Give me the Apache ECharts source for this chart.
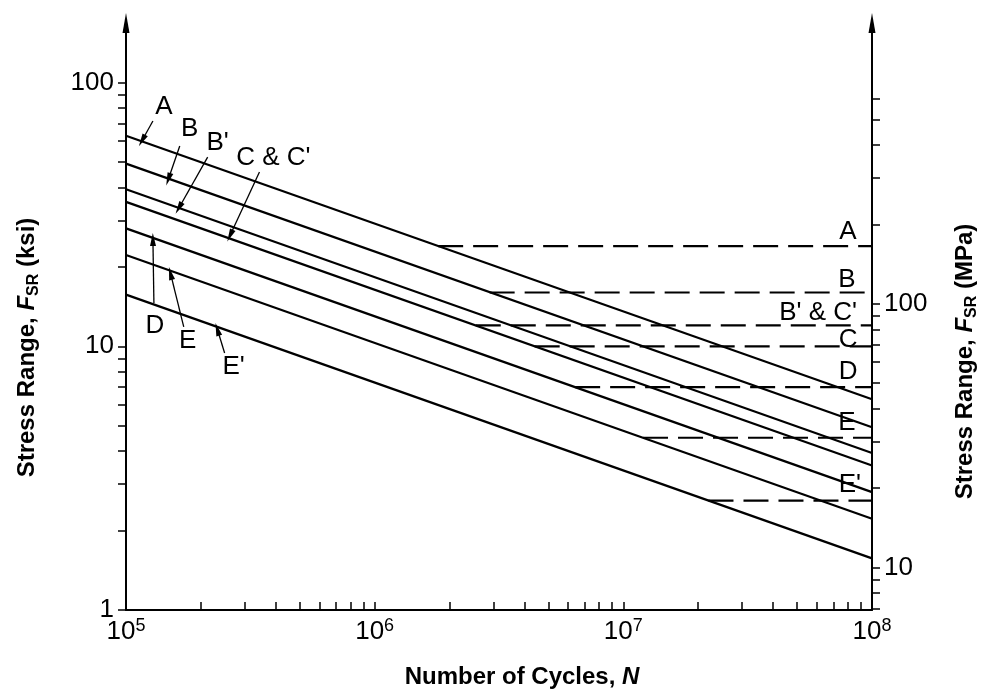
<!DOCTYPE html>
<html>
<head>
<meta charset="utf-8">
<script src="https://cdn.jsdelivr.net/npm/echarts@6/dist/echarts.min.js"></script>
<style>
  html, body { margin: 0; padding: 0; background: #fff; }
  #chart { width: 988px; height: 695px; }
</style>
</head>
<body>
<div id="chart"></div>
<script>
// ---------- data ----------
const curveNames = ['A', 'B', "B'", 'C & C\'', 'D', 'E', "E'"];
const cyclesStart = 1e5;
const cyclesEnd = 1e8;
const ksiAtStart = [62.9, 49.3, 39.4, 35.3, 28.0, 22.2, 15.7];   // stress range at N = 1e5
const ksiAtEnd   = [6.30, 4.93, 3.94, 3.53, 2.80, 2.22, 1.57];   // stress range at N = 1e8

const thresholdNames = ['A', 'B', "B' & C'", 'C', 'D', 'E', "E'"];
const thresholdKsi = [24, 16, 12, 10, 7, 4.5, 2.6];
const thresholdStartN = [1.8e6, 2.9e6, 2.55e6, 4.4e6, 6.4e6, 1.2e7, 2.2e7];

// axis ticks / labels
const nTicks = [1e5, 2e5, 3e5, 4e5, 5e5, 6e5, 7e5, 8e5, 9e5,
                1e6, 2e6, 3e6, 4e6, 5e6, 6e6, 7e6, 8e6, 9e6,
                1e7, 2e7, 3e7, 4e7, 5e7, 6e7, 7e7, 8e7, 9e7, 1e8];
const nLabels = [1e5, 1e6, 1e7, 1e8];
const ksiTicks = [1, 2, 3, 4, 5, 6, 7, 8, 9, 10, 20, 30, 40, 50, 60, 70, 80, 90, 100];
const ksiLabels = [1, 10, 100];
const mpaTicks = [7, 8, 9, 10, 20, 30, 40, 50, 60, 70, 80, 90, 100, 200, 300, 400, 500, 600];
const mpaLabels = [10, 100];
const ksiMin = 1;
const ksiMax = 168.3;
const MPA_PER_KSI = 6.895;

// annotation anchors (in data units: [cycles, ksi])
const leftLabelText = ['A', 'B', "B'", "C & C'", 'D', 'E', "E'"];
const leftLabelAt = [[1.42e5, 80.8], [1.805e5, 66.7], [2.336e5, 59.0], [3.914e5, 51.8],
                     [1.306e5, 11.94], [1.771e5, 10.47], [2.707e5, 8.35]];
const leaderFrom = [[1.283e5, 71.5], [1.645e5, 57.5], [2.13e5, 52.2], [3.441e5, 45.8],
                    [1.295e5, 14.6], [1.707e5, 11.84], [2.492e5, 9.43]];
const leaderTo = [[1.16e5, 60.3], [1.48e5, 43.0], [1.63e5, 33.4], [2.62e5, 26.3],
                  [1.283e5, 25.4], [1.51e5, 18.9], [2.33e5, 11.6]];
const rightLabelAt = [[8.01e7, 27.1], [7.93e7, 17.84], [6.07e7, 13.37], [8.01e7, 10.57],
                      [8.01e7, 7.99], [7.93e7, 5.12], [8.15e7, 2.98]];

// ---------- chart ----------
const FONT = 'Liberation Sans, Arial, Helvetica, sans-serif';
const chart = echarts.init(document.getElementById('chart'), null, { renderer: 'canvas' });

const series = [];
curveNames.forEach((name, i) => {
  series.push({
    name: name,
    type: 'line',
    data: [[cyclesStart, ksiAtStart[i]], [cyclesEnd, ksiAtEnd[i]]],
    symbol: 'none',
    lineStyle: { color: '#000', width: 2.2 },
    silent: true,
    z: 3
  });
});
thresholdNames.forEach((name, i) => {
  series.push({
    name: 'threshold ' + name,
    type: 'line',
    data: [[thresholdStartN[i], thresholdKsi[i]], [cyclesEnd, thresholdKsi[i]]],
    symbol: 'none',
    lineStyle: { color: '#000', width: 2.2, type: [25, 10] },
    silent: true,
    z: 3
  });
});

const labelStyle = { show: true, position: 'inside', color: '#000', fontSize: 26, fontFamily: FONT };
const markPoints = [];
leftLabelText.forEach((t, i) => markPoints.push({ coord: leftLabelAt[i], label: Object.assign({ formatter: t }, labelStyle) }));
thresholdNames.forEach((t, i) => markPoints.push({ coord: rightLabelAt[i], label: Object.assign({ formatter: t }, labelStyle) }));

series.push({
  name: 'annotations',
  type: 'line',
  data: [],
  symbol: 'none',
  silent: true,
  markPoint: {
    symbol: 'rect',
    symbolSize: 0,
    silent: true,
    animation: false,
    itemStyle: { color: 'rgba(0,0,0,0)' },
    data: markPoints
  },
  markLine: {
    silent: true,
    animation: false,
    symbol: ['none', 'triangle'],
    symbolSize: [6, 13],
    label: { show: false },
    lineStyle: { color: '#000', width: 1.3, type: 'solid' },
    emphasis: { disabled: true },
    data: leaderFrom.map((p, i) => [{ coord: p }, { coord: leaderTo[i] }])
  }
});

const nameRich = {
  b: { fontSize: 24, fontWeight: 'bold', fontFamily: FONT, color: '#000', lineHeight: 30 },
  i: { fontSize: 24, fontWeight: 'bold', fontStyle: 'italic', fontFamily: FONT, color: '#000', lineHeight: 30 },
  s: { fontSize: 16, fontWeight: 'bold', fontFamily: FONT, color: '#000', lineHeight: 16, verticalAlign: 'bottom' }
};

const option = {
  animation: false,
  backgroundColor: '#fff',
  grid: { left: 126, right: 113, top: 23, bottom: 85 },
  xAxis: {
    type: 'log',
    min: cyclesStart,
    max: cyclesEnd,
    name: '{b|Number of Cycles, }{i|N}',
    nameLocation: 'middle',
    nameGap: 52,
    nameTextStyle: { rich: nameRich, padding: [0, 0, 0, 46] },
    axisLine: { show: true, onZero: false, lineStyle: { color: '#000', width: 2 } },
    axisTick: { show: true, inside: true, length: 8, customValues: nTicks, lineStyle: { color: '#000', width: 1.5 } },
    minorTick: { show: false },
    splitLine: { show: false },
    axisLabel: {
      customValues: nLabels,
      margin: 7,
      formatter: v => '{b|10}{s|' + Math.round(Math.log10(v)) + '}',
      rich: {
        b: { fontSize: 26, fontFamily: FONT, color: '#000', lineHeight: 30 },
        s: { fontSize: 18, fontFamily: FONT, color: '#000', lineHeight: 12, verticalAlign: 'top' }
      }
    }
  },
  yAxis: [
    {
      type: 'log',
      min: ksiMin,
      max: ksiMax,
      position: 'left',
      name: '{b|Stress Range, }{i|F}{s|SR}{b| (ksi)}',
      nameLocation: 'middle',
      nameRotate: 90,
      nameGap: 84,
      nameTextStyle: { rich: nameRich, padding: [0, 62, 0, 0] },
      axisLine: { show: true, onZero: false, symbol: ['none', 'triangle'], symbolSize: [7, 20],
                  lineStyle: { color: '#000', width: 2 } },
      axisTick: { show: true, inside: false, length: 8, customValues: ksiTicks, lineStyle: { color: '#000', width: 1.5 } },
      splitLine: { show: false },
      axisLabel: { customValues: ksiLabels, margin: 12, color: '#000', fontSize: 26, fontFamily: FONT,
                   formatter: v => String(v) }
    },
    {
      type: 'log',
      min: ksiMin * MPA_PER_KSI,
      max: ksiMax * MPA_PER_KSI,
      position: 'right',
      name: '{b|Stress Range, }{i|F}{s|SR}{b| (MPa)}',
      nameLocation: 'middle',
      nameRotate: 90,
      nameGap: 78,
      nameTextStyle: { rich: nameRich, padding: [0, 90, 0, 0] },
      axisLine: { show: true, onZero: false, symbol: ['none', 'triangle'], symbolSize: [7, 20],
                  lineStyle: { color: '#000', width: 2 } },
      axisTick: { show: true, inside: false, length: 8, customValues: mpaTicks, lineStyle: { color: '#000', width: 1.5 } },
      splitLine: { show: false },
      axisLabel: { customValues: mpaLabels, margin: 12, color: '#000', fontSize: 26, fontFamily: FONT,
                   formatter: v => String(v) }
    }
  ],
  series: series
};
chart.setOption(option);
</script>
</body>
</html>
